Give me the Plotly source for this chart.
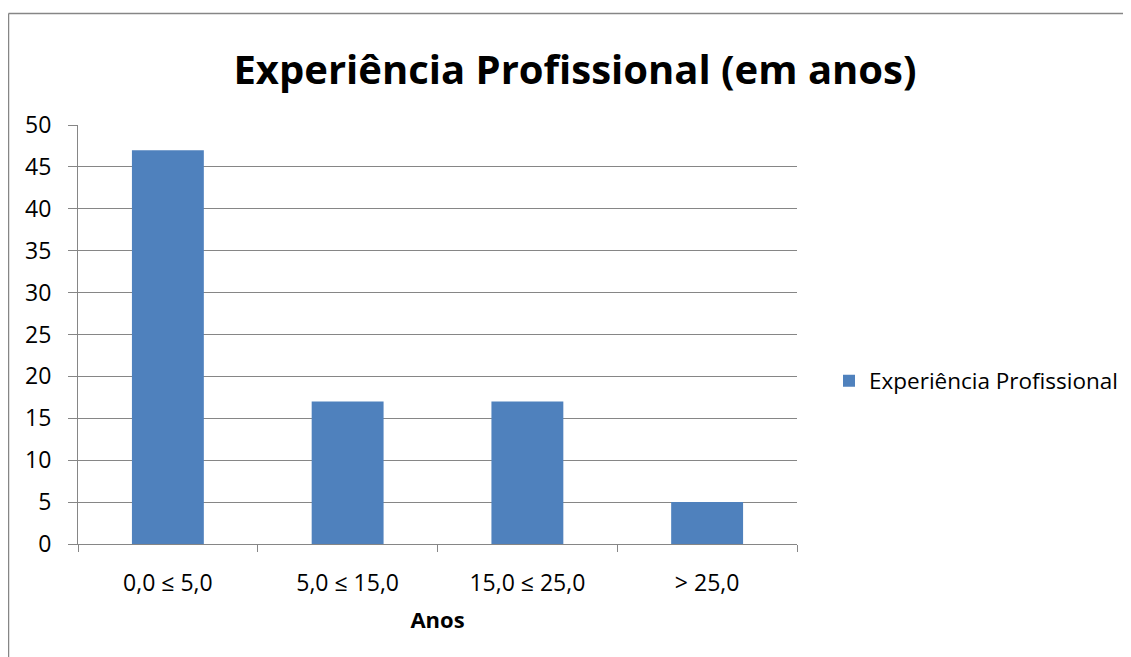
import plotly.graph_objects as go

categories = ["0,0 ≤ 5,0", "5,0 ≤ 15,0", "15,0 ≤ 25,0", "> 25,0"]
values = [47, 17, 17, 5]
series_name = "Experiência Profissional"

OFF = 8  # page body margin
W, H = 1131 - OFF, 657 - OFF
L, R, T, B = 78 - OFF, 797 - OFF, 125 - OFF, 544 - OFF
pw, ph = R - L, B - T

def px_x(p):
    return (p - OFF - L) / pw

def px_y(p):
    return (B - (p - OFF)) / ph

font = "Open Sans"
grid = "#868686"

fig = go.Figure()
fig.add_trace(go.Bar(x=categories, y=values, name=series_name,
                     marker=dict(color="#4F81BD", line=dict(width=0)),
                     showlegend=True))

fig.update_layout(
    width=W, height=H,
    margin=dict(l=L, r=W - R, t=T, b=H - B, autoexpand=False),
    paper_bgcolor="white", plot_bgcolor="white",
    font=dict(family=font, size=23, color="#000000"),
    bargap=0.6,
    title=dict(text="<b>Experiência Profissional (em anos)</b>",
               x=(575 - OFF) / W, xanchor="center", y=1 - (70 - OFF) / H, yanchor="middle",
               font=dict(family=font, size=40, color="#000000")),
    showlegend=True,
    legend=dict(x=px_x(829), xanchor="left", y=px_y(381), yanchor="middle",
                font=dict(family=font, size=22.5), bgcolor="rgba(0,0,0,0)",
                itemwidth=30),
    xaxis=dict(type="category", showline=True, linecolor=grid, linewidth=1,
               ticks="outside", tickson="boundaries", ticklen=7, tickcolor=grid,
               showgrid=False, tickfont=dict(size=23), ticklabelstandoff=18,
               title=dict(text="<b>Anos</b>", font=dict(size=22), standoff=16)),
    yaxis=dict(range=[0, 50], dtick=5, showline=True, linecolor=grid, linewidth=1,
               ticks="outside", ticklen=9, tickcolor=grid, ticklabelstandoff=12,
               showgrid=True, gridcolor=grid, gridwidth=1, zeroline=False,
               tickfont=dict(size=23)),
    shapes=[
        dict(type="line", xref="paper", yref="paper",
             x0=px_x(8.5), x1=px_x(1135), y0=px_y(13.5), y1=px_y(13.5),
             line=dict(color="#868686", width=1.5)),
        dict(type="line", xref="paper", yref="paper",
             x0=px_x(8.5), x1=px_x(8.5), y0=px_y(13.5), y1=px_y(660),
             line=dict(color="#868686", width=1.5)),
    ],
)

fig.write_html("out.html")
